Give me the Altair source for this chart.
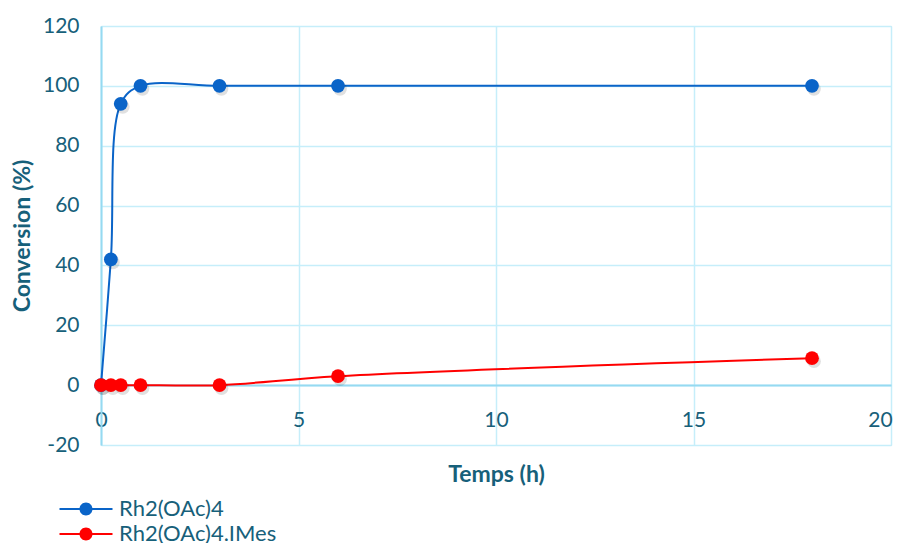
import altair as alt
import pandas as pd

# ---- data ----
hours = [0, 0.25, 0.5, 1, 3, 6, 18]
rh_oac4 = [0, 42, 94, 100, 100, 100, 100]
rh_oac4_imes = [0, 0, 0, 0, 0, 3, 9]
series = ["Rh2(OAc)4", "Rh2(OAc)4.IMes"]
colors = ["#0a64c8", "#ff0000"]
x_ticks = [0, 5, 10, 15, 20]
y_ticks = [-20, 0, 20, 40, 60, 80, 100, 120]

rows = []
for h, a, b in zip(hours, rh_oac4, rh_oac4_imes):
    rows.append({"hours": h, "conv": a, "series": series[0]})
    rows.append({"hours": h, "conv": b, "series": series[1]})
df = pd.DataFrame(rows)

TEXT = "#17607a"
GRID = "#c6eefa"
AXIS = "#95daf1"
FONT = "Lato"

W, H = 790, 419

x = alt.X(
    "hours:Q",
    scale=alt.Scale(domain=[0, 20], nice=False, zero=False),
    axis=alt.Axis(
        values=x_ticks, title="Temps (h)", offset=-60, ticks=False,
        labelFlush=False, labelExpr="'' + datum.value",
        labelOffset={"condition": {"test": "datum.value == 20", "value": -11}, "value": 0},
        labelPadding=24, labelFontSize=21, labelColor=TEXT, labelFont=FONT,
        titleFontSize=23, titleFont=FONT, titleColor=TEXT, titleFontWeight="bold",
        titleY=89, titleBaseline="middle",
        domainColor=AXIS, domainWidth=2, gridColor=GRID, gridWidth=1.5,
    ),
)
y = alt.Y(
    "conv:Q",
    scale=alt.Scale(domain=[-20, 120], nice=False),
    axis=alt.Axis(
        values=y_ticks, title="Conversion (%)", ticks=False,
        labelFlush=False, labelExpr="'' + datum.value",
        labelPadding=22, labelFontSize=21, labelColor=TEXT, labelFont=FONT,
        titleFontSize=23, titleFont=FONT, titleColor=TEXT, titleFontWeight="bold",
        titleX=-79, titleY=H / 2, titleBaseline="middle", titleAngle=270,
        domainColor=AXIS, domainWidth=2, gridColor=GRID, gridWidth=1.5,
    ),
)

# legend glyph: a line with a dot in its middle (unit = sqrt(symbolSize)/2 = 10px)
sym = ("M-2.65,-0.1L2.65,-0.1L2.65,0.1L-2.65,0.1Z"
       "M0.65,0A0.65,0.65,0,1,1,-0.65,0A0.65,0.65,0,1,1,0.65,0Z")

legend = alt.Legend(
    title=None, orient="none", legendX=-26, legendY=472,
    symbolType=sym, symbolSize=400, symbolStrokeWidth=0,
    labelFontSize=22, labelFont=FONT, labelColor=TEXT,
    rowPadding=3, labelOffset=22,
)
color = alt.Color("series:N", scale=alt.Scale(domain=series, range=colors), legend=legend)

shadow = alt.Chart(df).mark_point(
    filled=True, size=190, color="#000000", opacity=0.12, xOffset=2, yOffset=3
).encode(x=x, y=y, detail="series:N")

line = alt.Chart(df).mark_line(interpolate="catmull-rom", strokeWidth=2).encode(
    x=x, y=y, color=color,
)

points = alt.Chart(df).mark_point(filled=True, size=190, opacity=1).encode(
    x=x, y=y, color=color,
)

chart = (
    alt.layer(line, shadow, points)
    .properties(width=W, height=H,
                autosize=alt.AutoSizeParams(type="none"),
                padding={"left": 93, "top": 18, "right": 4, "bottom": 98})
    .configure_view(stroke=None)
    .configure(background="white")
)

chart.save("out.html", embed_options={"renderer": "svg", "actions": False})
